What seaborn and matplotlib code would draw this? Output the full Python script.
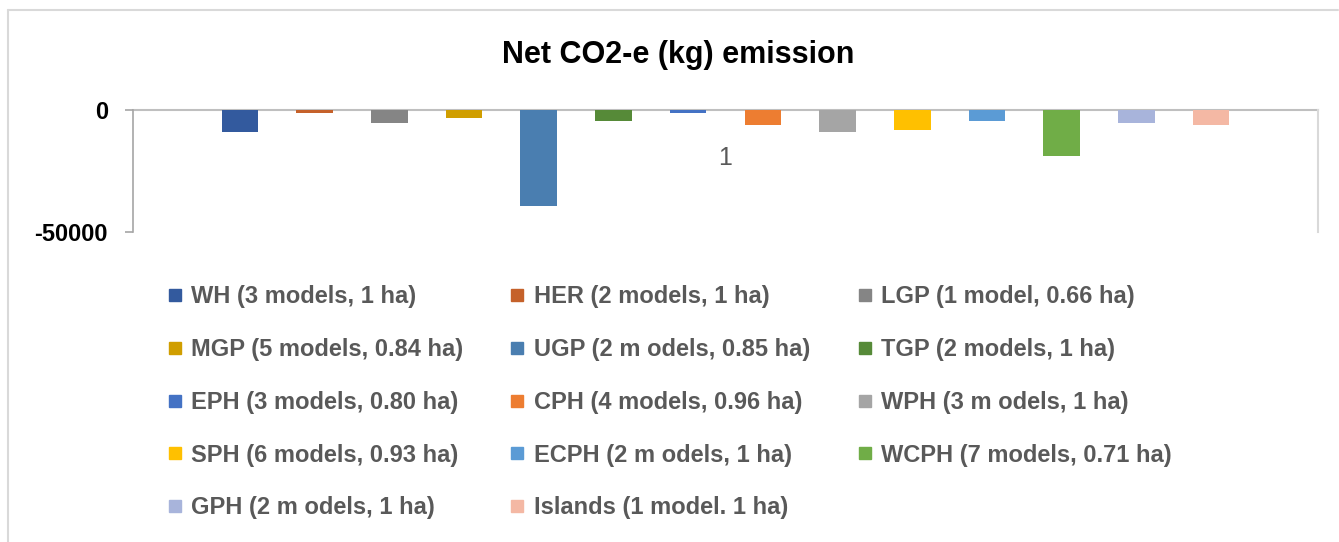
import matplotlib
matplotlib.use("Agg")
import matplotlib.pyplot as plt
import seaborn as sns
import pandas as pd
from matplotlib.lines import Line2D

series = ["WH (3 models, 1 ha)", "HER (2 models, 1 ha)", "LGP (1 model, 0.66 ha)",
          "MGP (5 models, 0.84 ha)", "UGP (2 m odels, 0.85 ha)", "TGP (2 models, 1 ha)",
          "EPH (3 models, 0.80 ha)", "CPH (4 models, 0.96 ha)", "WPH (3 m odels, 1 ha)",
          "SPH (6 models, 0.93 ha)", "ECPH (2 m odels, 1 ha)", "WCPH (7 models, 0.71 ha)",
          "GPH (2 m odels, 1 ha)", "Islands (1 model. 1 ha)"]
values = [-9000, -1200, -5200, -3400, -39400, -4400, -1100, -6200, -9000, -8000,
          -4400, -19000, -5200, -6200]
category = ["1"] * len(series)
colors = ["#335A9E", "#C5612A", "#858585", "#D09E00", "#4A7EB0", "#568A38",
          "#4472C4", "#ED7D31", "#A5A5A5", "#FFC000", "#5B9BD5", "#70AD47",
          "#A8B4DB", "#F4B8A4"]
yticks = [0, -50000]
title = "Net CO2-e (kg) emission"

df = pd.DataFrame({"cat": category, "series": series, "value": values})

sns.set_style("white")
plt.rcParams["font.family"] = ["Liberation Sans", "DejaVu Sans"]

W, H = 1339, 542
fig = plt.figure(figsize=(W / 100, H / 100), dpi=100)
ax = fig.add_axes([133 / W, 1 - 232 / H, (1318 - 133) / W, (232 - 110) / H])

sns.barplot(data=df, x="cat", y="value", hue="series", hue_order=series,
            palette=colors, width=0.8825, gap=0.51, ax=ax, legend=False,
            edgecolor="none", saturation=1)

ax.set_xlim(-0.5, 0.5)
ax.set_ylim(-50000, 0)
ax.set_yticks(yticks)
ax.set_yticklabels([str(v) for v in yticks], fontsize=17, fontweight="bold", color="black")
ax.tick_params(axis="y", length=6, width=1.2, color="#A6A6A6", direction="out", pad=12, left=True)
ax.tick_params(axis="x", length=0, pad=-62, labelsize=18, labelcolor="#595959")
ax.set_xlabel("")
ax.set_ylabel("")

ax.spines["bottom"].set_visible(False)
ax.spines["left"].set_color("#A6A6A6")
ax.spines["left"].set_linewidth(1.2)
ax.spines["top"].set_color("#BFBFBF")
ax.spines["top"].set_linewidth(1.5)
ax.spines["right"].set_color("#D9D9D9")
ax.spines["right"].set_linewidth(1.5)
ax.spines["top"].set_zorder(0)

fig.text(678 / W, 1 - 55 / H, title, ha="center", va="center",
         fontsize=22, fontweight="bold", color="black")

# legend (row-major order displayed with column-major fill)
order = [0, 3, 6, 9, 12, 1, 4, 7, 10, 13, 2, 5, 8, 11]
handles = [Line2D([], [], marker="s", linestyle="none", markersize=8,
                  markerfacecolor=colors[i], markeredgecolor=colors[i]) for i in order]
labels = [series[i] for i in order]
leg = fig.legend(handles, labels, ncol=3, loc="upper left",
                 bbox_to_anchor=(158 / W, 1 - 276 / H), frameon=False,
                 prop={"size": 17, "weight": "bold"}, labelcolor="#595959",
                 handlelength=0.6, handletextpad=0.4, columnspacing=2.0,
                 labelspacing=1.26, borderaxespad=0)

# outer chart border
fig.add_artist(Line2D([8 / W, 8 / W], [0, 1 - 10 / H], transform=fig.transFigure,
                      color="#D9D9D9", linewidth=1.5))
fig.add_artist(Line2D([8 / W, 1338 / W], [1 - 10 / H, 1 - 10 / H], transform=fig.transFigure,
                      color="#D9D9D9", linewidth=1.5))

fig.savefig("out.png", dpi=100)
